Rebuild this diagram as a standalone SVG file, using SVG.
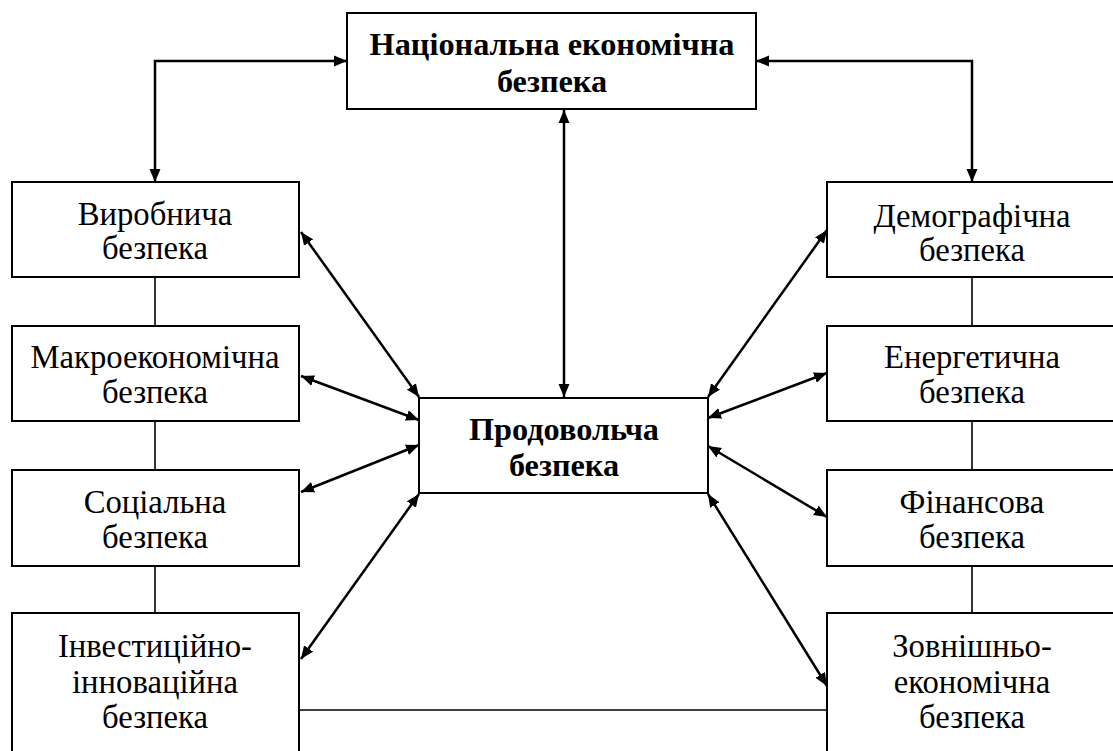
<svg xmlns="http://www.w3.org/2000/svg" width="1113" height="751" viewBox="0 0 1113 751">
<style>
.box{fill:#fff;stroke:#000;stroke-width:2}
.t{font-family:"Liberation Serif","Times New Roman",serif;font-size:32.7px;fill:#000;text-anchor:middle}
.b{font-weight:bold;font-size:32.3px}
.arr{fill:none;stroke:#000;stroke-width:2.5;marker-start:url(#ah);marker-end:url(#ah)}
.ln{fill:none;stroke:#000;stroke-width:1.6}
</style>
<defs>
<marker id="ah" markerUnits="userSpaceOnUse" markerWidth="14" markerHeight="12" refX="13" refY="6" orient="auto-start-reverse" viewBox="0 0 14 12">
<path d="M0,0.5 L13,6 L0,11.5 z" fill="#000"/>
</marker>
</defs>
<g id="connectors">
<line class="ln" x1="155" y1="277" x2="155" y2="326"/>
<line class="ln" x1="155" y1="421" x2="155" y2="470"/>
<line class="ln" x1="155" y1="566" x2="155" y2="613"/>
<line class="ln" x1="972" y1="277" x2="972" y2="326"/>
<line class="ln" x1="972" y1="421" x2="972" y2="470"/>
<line class="ln" x1="972" y1="566" x2="972" y2="613"/>
<line class="ln" x1="299" y1="710" x2="827" y2="710"/>
<polyline class="arr" points="347,61 155,61 155,182"/>
<polyline class="arr" points="756,61 972,61 972,182"/>
<line class="arr" x1="564" y1="110" x2="564" y2="397"/>
<line class="arr" x1="301" y1="232" x2="419" y2="397"/>
<line class="arr" x1="301" y1="376" x2="419" y2="420"/>
<line class="arr" x1="301" y1="492" x2="419" y2="445"/>
<line class="arr" x1="301" y1="659" x2="419" y2="494"/>
<line class="arr" x1="827" y1="230" x2="708" y2="397"/>
<line class="arr" x1="827" y1="373" x2="708" y2="418"/>
<line class="arr" x1="827" y1="517" x2="708" y2="446"/>
<line class="arr" x1="827" y1="686" x2="708" y2="494"/>
</g>
<g id="n-national">
<rect class="box" x="347" y="13" width="409" height="96"/>
<text class="t b" x="552" y="55">Національна економічна</text>
<text class="t b" x="552" y="92">безпека</text>
</g>
<g id="n-food">
<rect class="box" x="419" y="398" width="289" height="95"/>
<text class="t b" x="564" y="440">Продовольча</text>
<text class="t b" x="564" y="476">безпека</text>
</g>
<g id="n-vyrob">
<rect class="box" x="12" y="182" width="287" height="95"/>
<text class="t" x="155" y="225">Виробнича</text>
<text class="t" x="155" y="259">безпека</text>
</g>
<g id="n-makro">
<rect class="box" x="12" y="326" width="287" height="95"/>
<text class="t" x="155" y="368">Макроекономічна</text>
<text class="t" x="155" y="403">безпека</text>
</g>
<g id="n-social">
<rect class="box" x="12" y="470" width="287" height="96"/>
<text class="t" x="155" y="513">Соціальна</text>
<text class="t" x="155" y="548">безпека</text>
</g>
<g id="n-invest">
<rect class="box" x="12" y="613" width="287" height="150"/>
<text class="t" x="155" y="657">Інвестиційно-</text>
<text class="t" x="155" y="693">інноваційна</text>
<text class="t" x="155" y="728">безпека</text>
</g>
<g id="n-demo">
<rect class="box" x="827" y="182" width="300" height="95"/>
<text class="t" x="972" y="227">Демографічна</text>
<text class="t" x="972" y="261">безпека</text>
</g>
<g id="n-energy">
<rect class="box" x="827" y="326" width="300" height="95"/>
<text class="t" x="972" y="368">Енергетична</text>
<text class="t" x="972" y="403">безпека</text>
</g>
<g id="n-finance">
<rect class="box" x="827" y="470" width="300" height="96"/>
<text class="t" x="972" y="513">Фінансова</text>
<text class="t" x="972" y="548">безпека</text>
</g>
<g id="n-foreign">
<rect class="box" x="827" y="613" width="300" height="150"/>
<text class="t" x="972" y="657">Зовнішньо-</text>
<text class="t" x="972" y="693">економічна</text>
<text class="t" x="972" y="728">безпека</text>
</g>
</svg>
